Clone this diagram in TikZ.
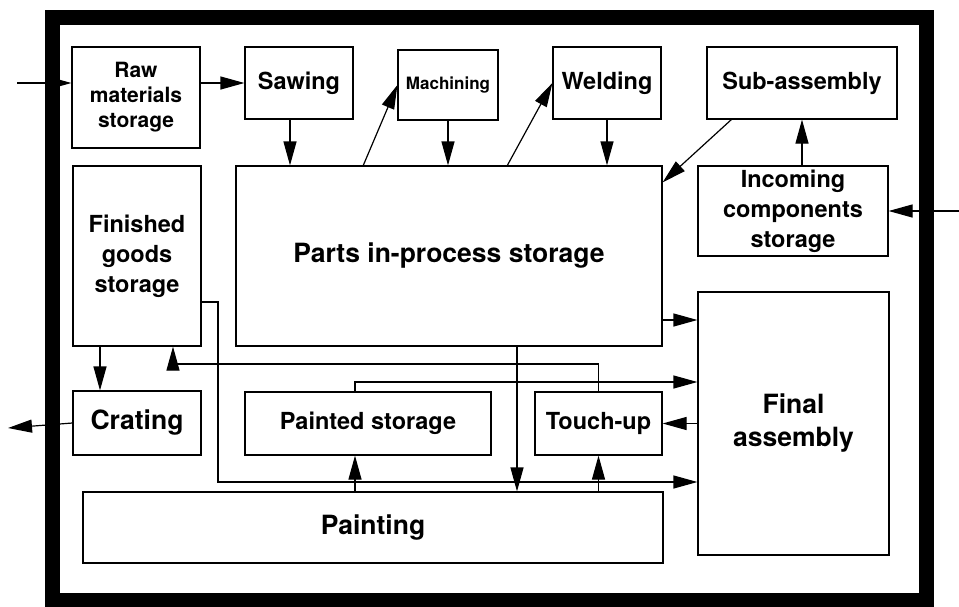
\documentclass[tikz,border=0pt]{standalone}
\usepackage{fontspec}
\setmainfont{TeX Gyre Heros}
\usetikzlibrary{arrows.meta}

\tikzset{
  box/.style={draw, line width=1.2pt, inner sep=0pt, align=center},
  fsmall/.style={font=\fontsize{17}{20}\selectfont\bfseries},
  fmed/.style={font=\fontsize{21}{25}\selectfont\bfseries},
  fbig/.style={font=\fontsize{23.5}{30}\selectfont\bfseries},
  fhuge/.style={font=\fontsize{26.5}{33}\selectfont\bfseries},
  arr/.style={line width=1.2pt, -{Triangle[length=24pt,width=13pt]}},
  outerframe/.style={line width=15pt},
}

\begin{document}
\begin{tikzpicture}[x=1pt,y=-1pt]
\useasboundingbox (0,0) rectangle (959,606);

\draw[outerframe] (52.5,17.5) rectangle (926.5,600);

\node[box,fmed,minimum width=128,minimum height=101] (raw) at (136,97.5) {Raw\\materials\\storage};
\node[box,fbig,minimum width=108,minimum height=72] (saw) at (299,83) {Sawing};
\node[box,fsmall,minimum width=100,minimum height=70] (mach) at (448,85) {Machining};
\node[box,fbig,minimum width=108,minimum height=72] (weld) at (607,83) {Welding};
\node[box,fbig,minimum width=190,minimum height=72] (sub) at (802,83) {Sub-assembly};

\node[box,fbig,minimum width=128,minimum height=180] (fg) at (137,256) {Finished\\goods\\storage};
\node[box,fhuge,minimum width=426,minimum height=180] (pip) at (449,256) {Parts in-process storage};
\node[box,fbig,minimum width=190,minimum height=90] (inc) at (793,211) {Incoming\\components\\storage};
\node[box,fhuge,minimum width=191,minimum height=263] (fa) at (793.5,423.5) {Final\\assembly};

\node[box,fhuge,minimum width=128,minimum height=64] (crate) at (137,423) {Crating};
\node[box,fbig,minimum width=246,minimum height=63] (ps) at (368,423.5) {Painted storage};
\node[box,fbig,minimum width=127,minimum height=63] (tu) at (598.5,423.5) {Touch-up};
\node[box,fhuge,minimum width=580,minimum height=71] (paint) at (373,527.5) {Painting};

\coordinate (in1) at (17,83);
\coordinate (in2) at (959,211);
\coordinate (out1) at (8,428);
\coordinate (q1) at (363,166);
\coordinate (q2) at (507,166);
\coordinate (q3) at (732,119);
\coordinate (p1) at (355,382);
\coordinate (p2a) at (218,302);
\coordinate (p2) at (218,482);
\coordinate (p3) at (173,364);
\coordinate (p4) at (662,320);
\coordinate (p5) at (517,346);

\draw[arr] (in1) -- (in1 -| raw.west);
\draw[arr] (raw.east |- saw.west) -- (saw.west);
\draw[arr] ([xshift=-9pt]saw.south) -- ([xshift=-9pt]saw.south |- pip.north);
\draw[arr] (q1) -- (mach.west);
\draw[arr] (mach.south) -- (mach.south |- pip.north);
\draw[arr] (q2) -- (weld.west);
\draw[arr] (weld.south) -- (weld.south |- pip.north);
\draw[arr] (q3) -- ([yshift=-17pt]pip.north east);
\draw[arr] (inc.north -| sub.south) -- (sub.south);
\draw[arr] (in2) -- (inc.east);

\draw[arr] (p4) -- (p4 -| fa.west);
\draw[arr] ([xshift=-37pt]fg.south) -- ([xshift=-37pt]crate.north);
\draw[arr] (crate.west) -- (out1);
\draw[arr] (tu.north) |- (p3) -- (p3 |- fg.south);
\draw[arr] (p1 |- ps.north) -- (p1) -- (p1 -| fa.west);
\draw[arr] (fa.west |- tu.east) -- (tu.east);
\draw[arr] (p2a -| fg.east) -- (p2a) -- (p2) -- (p2 -| fa.west);
\draw[arr] (p5) -- (p5 |- paint.north);
\draw[arr] (p1 |- paint.north) -- (p1 |- ps.south);
\draw[arr] (paint.north -| tu.south) -- (tu.south);

\end{tikzpicture}
\end{document}
